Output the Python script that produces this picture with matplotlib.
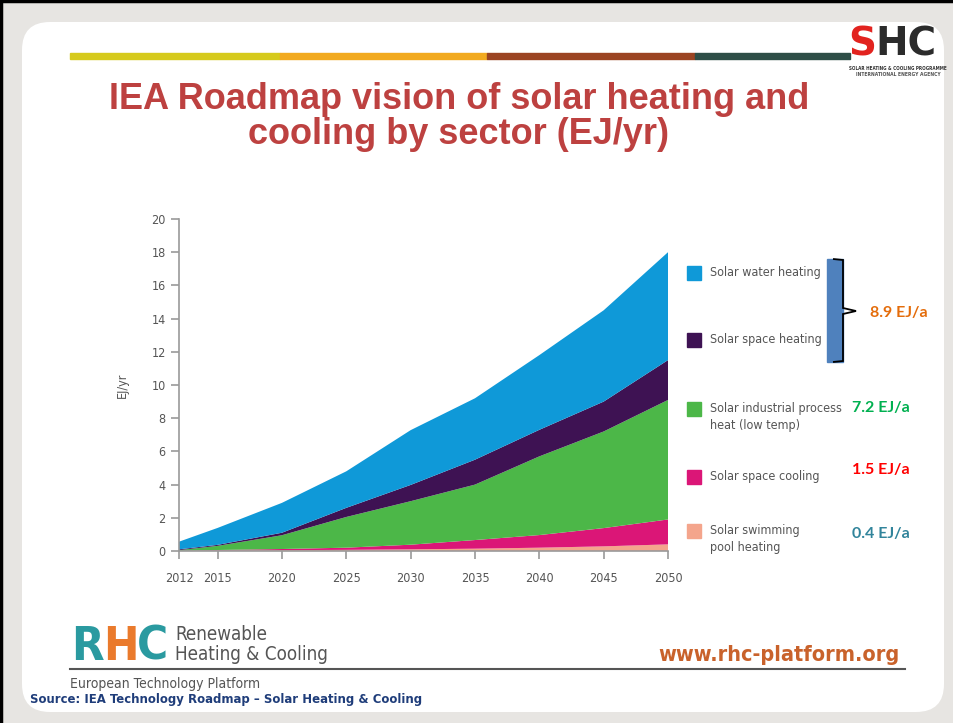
import matplotlib
matplotlib.use("Agg")
import matplotlib.pyplot as plt
from matplotlib.patches import FancyBboxPatch, Rectangle, PathPatch
from matplotlib.path import Path
from matplotlib import font_manager

# IEA roadmap, solar heat by sector (EJ/yr), stacked bottom to top
years = [2012, 2015, 2020, 2025, 2030, 2035, 2040, 2045, 2050]
pool_heating = [0.01, 0.03, 0.05, 0.07, 0.10, 0.14, 0.20, 0.28, 0.4]
space_cooling = [0.01, 0.03, 0.07, 0.13, 0.28, 0.52, 0.76, 1.10, 1.5]
industrial_heat = [0.03, 0.25, 0.83, 1.85, 2.62, 3.34, 4.74, 5.82, 7.2]
space_heating = [0.05, 0.06, 0.15, 0.55, 0.98, 1.50, 1.60, 1.80, 2.4]
water_heating = [0.46, 1.02, 1.80, 2.20, 3.30, 3.70, 4.50, 5.50, 6.5]

series_labels = ["Solar swimming\npool heating", "Solar space cooling",
                 "Solar industrial process\nheat (low temp)",
                 "Solar space heating", "Solar water heating"]
series_colors = ["#f4a58c", "#db1677", "#4cb748", "#3e1253", "#0f99d8"]

year_ticks = [2012, 2015, 2020, 2025, 2030, 2035, 2040, 2045, 2050]
value_ticks = list(range(0, 21, 2))

# 2050 figures written next to the legend
heating_total = "8.9 EJ/a"
value_notes = [("7.2 EJ/a", "#00b050"), ("1.5 EJ/a", "#ff0000"), ("0.4 EJ/a", "#31849b")]

# condensed sans for the small chart texts
narrow = font_manager.FontProperties(family="DejaVu Sans", stretch="condensed")


def nfont(size, weight="normal"):
    fp = narrow.copy()
    fp.set_size(size)
    fp.set_weight(weight)
    return fp


fig = plt.figure(figsize=(9.54, 7.23), dpi=100)
renderer = fig.canvas.get_renderer()

# page layer in pixel coordinates
bg = fig.add_axes([0, 0, 1, 1])
bg.set_xlim(0, 954)
bg.set_ylim(723, 0)
bg.axis("off")


def word_logo(x, y, parts, fp):
    # letters set one after another, each in its own colour
    for letter, col in parts:
        t = bg.text(x, y, letter, color=col, fontproperties=fp, va="top", ha="left", zorder=3)
        bb = t.get_window_extent(renderer)
        x += bb.width * 0.97


bg.add_patch(Rectangle((0, 0), 954, 723, color="#e7e5e2", zorder=0))
bg.plot([1, 1], [0, 723], color="black", lw=2.5, zorder=1)
bg.plot([0, 954], [1, 1], color="black", lw=2.5, zorder=1)
bg.add_patch(FancyBboxPatch((22, 22), 922, 690, boxstyle="round,pad=0,rounding_size=28",
                            fc="white", ec="none", zorder=1))

# coloured header rule
rule = [(70, 280, "#d6ca1c"), (280, 487, "#f2aa20"), (487, 695, "#9b4422"), (695, 850, "#2e4e47")]
for x0, x1, c in rule:
    bg.add_patch(Rectangle((x0, 53), x1 - x0, 6, color=c, zorder=2))

# SHC logo
word_logo(848, 26, [("S", "#e2231f"), ("HC", "#2b2b2b")],
          font_manager.FontProperties(family="DejaVu Sans", weight="bold", size=28))
bg.text(898, 68, "SOLAR HEATING & COOLING PROGRAMME", color="#333333",
        fontproperties=nfont(3.3, "bold"), ha="center", va="center", zorder=3)
bg.text(898, 75, "INTERNATIONAL ENERGY AGENCY", color="#555555",
        fontproperties=nfont(3.6, "bold"), ha="center", va="center", zorder=3)

# title
bg.text(459, 117, "IEA Roadmap vision of solar heating and\ncooling by sector (EJ/yr)",
        color="#bd4140", fontsize=26, fontweight="bold", family="Liberation Sans",
        ha="center", va="center", linespacing=1.03, zorder=3)

# legend
legend_y = [531, 477, 409, 340, 273]
for lab, col, y in zip(series_labels, series_colors, legend_y):
    bg.add_patch(Rectangle((687, y - 7), 14, 14, color=col, zorder=3))
    bg.text(710, y - 7, lab, color="#555555", fontproperties=nfont(9),
            va="top", ha="left", linespacing=1.35, zorder=3)

# brace grouping water and space heating
bg.add_patch(Rectangle((827, 259), 16, 103, color="#4f81bd", zorder=3))
brace = Path([(833, 259), (843, 260), (843, 308), (856, 311), (843, 314), (843, 361), (833, 362)],
             [Path.MOVETO, Path.LINETO, Path.LINETO, Path.LINETO, Path.LINETO, Path.LINETO, Path.LINETO])
bg.add_patch(PathPatch(brace, fc="none", ec="black", lw=1.3, zorder=4))
bg.text(870, 313, heating_total, color="#e46c0a", fontsize=11.5, fontweight="bold",
        family="Lato", va="center", ha="left", zorder=3)
for (txt, col), y in zip(value_notes, [408, 470, 534]):
    bg.text(852, y, txt, color=col, fontsize=11.5, fontweight="bold",
            family="Lato", va="center", ha="left", zorder=3)

# footer
word_logo(71, 625, [("R", "#2a9aa0"), ("H", "#ea7a2c"), ("C", "#2a9aa0")], nfont(34, "bold"))
bg.text(175, 634, "Renewable", color="#555555", fontproperties=nfont(13.5), va="center", zorder=3)
bg.text(175, 655, "Heating & Cooling", color="#555555", fontproperties=nfont(13.5),
        va="center", zorder=3)
bg.plot([70, 905], [669, 669], color="#555555", lw=1.5, zorder=3)
bg.text(70, 684, "European Technology Platform", color="#555555", fontproperties=nfont(10),
        va="center", zorder=3)
bg.text(900, 655, "www.rhc-platform.org", color="#c9622b", fontproperties=nfont(15.5, "bold"),
        va="center", ha="right", zorder=3)
bg.text(30, 700, "Source: IEA Technology Roadmap \u2013 Solar Heating & Cooling", color="#1f3d7a",
        fontproperties=nfont(9.4, "bold"), va="center", zorder=3)

# stacked area chart
ax = fig.add_axes([179 / 954, 1 - 551 / 723, (668 - 179) / 954, (551 - 219) / 723])
ax.set_zorder(5)
ax.patch.set_alpha(0)
ax.stackplot(years, pool_heating, space_cooling, industrial_heat, space_heating, water_heating,
             colors=series_colors, linewidth=0)
ax.set_xlim(2012, 2050)
ax.set_ylim(0, 20)
ax.set_xticks(year_ticks)
ax.set_yticks(value_ticks)
for s in ["top", "right"]:
    ax.spines[s].set_visible(False)
for s in ["left", "bottom"]:
    ax.spines[s].set_color("#9a9a9a")
    ax.spines[s].set_linewidth(1.2)
ax.tick_params(colors="#9a9a9a", labelcolor="#555555", length=6, width=1.2)
ax.tick_params(axis="x", pad=9)
for lab in ax.get_xticklabels() + ax.get_yticklabels():
    lab.set_fontproperties(nfont(9))
ax.set_ylabel("EJ/yr", color="#555555", fontproperties=nfont(9), labelpad=16)

fig.savefig("out.png", dpi=100)
